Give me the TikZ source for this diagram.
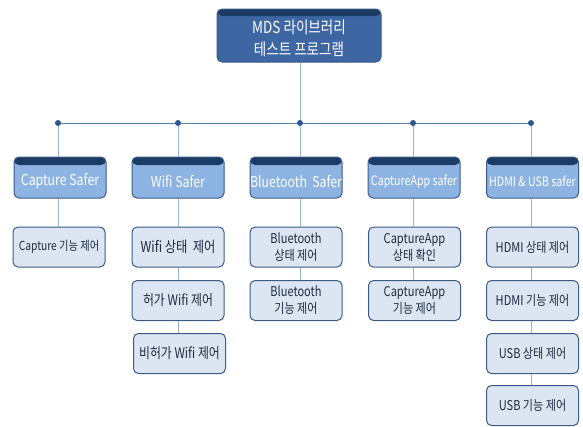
\documentclass[tikz,border=0pt]{standalone}
\usepackage{fontspec}
\setmainfont{Noto Sans CJK KR}[FakeStretch=0.82]
\definecolor{topfill}{HTML}{3D66A3}
\definecolor{band}{HTML}{1B3A64}
\definecolor{lonefill}{HTML}{8DB3E2}
\definecolor{ltwofill}{HTML}{DCE6F2}
\definecolor{boxborder}{HTML}{3B5A88}
\definecolor{conn}{HTML}{95B3D7}
\definecolor{bus}{HTML}{5A7FB0}
\definecolor{dotc}{HTML}{2E5690}
\definecolor{txt}{HTML}{1F2A40}
\begin{document}
\begin{tikzpicture}[x=1pt,y=-1pt,
  bandpic/.style={path picture={\fill[band] (path picture bounding box.north west) rectangle ([yshift=-#1]path picture bounding box.north east);}},
  topbox/.style={rounded corners=5pt, draw=boxborder, line width=1pt, fill=topfill, minimum width=164pt, minimum height=53pt, inner sep=0pt, bandpic=7pt},
  lonebox/.style={rounded corners=5pt, draw=boxborder, line width=1pt, fill=lonefill, minimum width=92pt, minimum height=41pt, inner sep=0pt, bandpic=8pt},
  ltwobox/.style={rounded corners=5pt, draw=boxborder, line width=1pt, fill=ltwofill, minimum width=92pt, minimum height=40pt, inner sep=0pt, align=center, text=txt, font=\fontsize{13.5}{17}\selectfont},
  wtext/.style={text=white, align=center, inner sep=0pt, font=\fontsize{15}{18}\selectfont},
  conline/.style={draw=conn, line width=1pt},
  busline/.style={draw=bus, line width=1pt},
  dotst/.style={fill=dotc}
]
\useasboundingbox (0,0) rectangle (583,426);

% bus coordinates
\coordinate (pa) at (58,123);
\coordinate (pb) at (178,123);
\coordinate (pc) at (300,123);
\coordinate (pd) at (413,123);
\coordinate (pe) at (531,123);

% top
\node[topbox] (top) at (299,35.5) {};
\node[wtext, font=\fontsize{16.5}{22}\selectfont] (toptxt) at ([yshift=-3pt]top.center) {MDS 라이브러리\\테스트 프로그램};

% level 1
\node[lonebox] (a) at (60,177.5) {};
\node[lonebox] (b) at (178,177.5) {};
\node[lonebox] (c) at (296,177.5) {};
\node[lonebox] (d) at (414,177.5) {};
\node[lonebox] (e) at (532.5,177.5) {};
\node[wtext] (at) at ([yshift=-4pt]a.center) {Capture Safer};
\node[wtext] (bt) at ([yshift=-4pt]b.center) {Wifi Safer};
\node[wtext] (ct) at ([yshift=-4pt]c.center) {Bluetooth\, Safer};
\node[wtext, font=\fontsize{13}{16}\selectfont] (dt) at ([yshift=-4pt]d.center) {CaptureApp safer};
\node[wtext, font=\fontsize{13}{16}\selectfont] (et) at ([yshift=-4pt]e.center) {HDMI \& USB safer};

% level 2
\node[ltwobox, font=\fontsize{12.5}{16}\selectfont] (a1) at (59,247) {Capture 기능 제어};
\node[ltwobox, font=\fontsize{15}{18}\selectfont] (b1) at (178,247) {Wifi 상태\, 제어};
\node[ltwobox, font=\fontsize{14.5}{18}\selectfont] (b2) at (178,300.5) {허가 Wifi 제어};
\node[ltwobox, font=\fontsize{14.5}{18}\selectfont] (b3) at (179.5,353.5) {비허가 Wifi 제어};
\node[ltwobox] (c1) at (296,247) {Bluetooth\\상태 제어};
\node[ltwobox] (c2) at (296,300.5) {Bluetooth\\기능 제어};
\node[ltwobox] (d1) at (414.5,247) {CaptureApp\\상태 확인};
\node[ltwobox] (d2) at (414.5,300.5) {CaptureApp\\기능 제어};
\node[ltwobox] (e1) at (532.5,247) {HDMI 상태 제어};
\node[ltwobox] (e2) at (532.5,300.5) {HDMI 기능 제어};
\node[ltwobox] (e3) at (532.5,353.5) {USB 상태 제어};
\node[ltwobox] (e4) at (532.5,405.5) {USB 기능 제어};

% connectors
\draw[conline] (top.south -| pc) -- (pc);
\draw[busline] (pa) -- (pe);
\foreach \p/\n in {pa/a, pb/b, pc/c, pd/d, pe/e}{
  \draw[conline] (\p) -- (\p |- \n.north);
}
\draw[conline] (pa |- a.south) -- (pa |- a1.north);
\draw[conline] (pb |- b.south) -- (pb |- b1.north);
\draw[conline] (pb |- b1.south) -- (pb |- b2.north);
\draw[conline] (pb |- b2.south) -- (pb |- b3.north);
\draw[conline] (pc |- c.south) -- (pc |- c1.north);
\draw[conline] (pc |- c1.south) -- (pc |- c2.north);
\draw[conline] (pd |- d.south) -- (pd |- d1.north);
\draw[conline] (pd |- d1.south) -- (pd |- d2.north);
\draw[conline] (pe |- e.south) -- (pe |- e1.north);
\draw[conline] (pe |- e1.south) -- (pe |- e2.north);
\draw[conline] (pe |- e2.south) -- (pe |- e3.north);
\draw[conline] (pe |- e3.south) -- (pe |- e4.north);
\foreach \p in {pa,pb,pc,pd,pe}{
  \fill[dotst] (\p) circle (3pt);
}
\end{tikzpicture}
\end{document}
